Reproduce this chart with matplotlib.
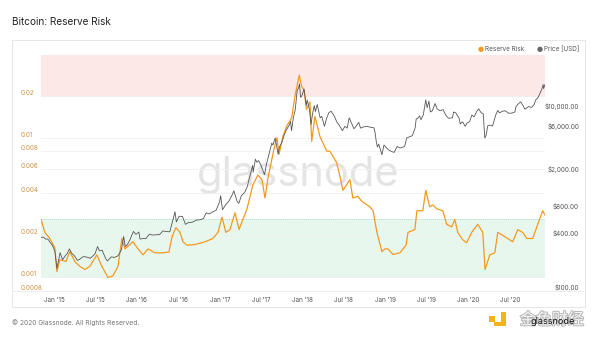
import numpy as np
import pandas as pd
import matplotlib
matplotlib.use('Agg')
from matplotlib import pyplot as plt
import matplotlib.dates as mdates
from matplotlib.patches import Rectangle
from matplotlib.lines import Line2D
from matplotlib import patheffects as pe

plt.rcParams['font.family'] = ['Inter', 'DejaVu Sans']

# reserve risk
riskDates = ['2014-11-05', '2014-11-22', '2014-12-14', '2015-01-05', '2015-01-14', '2015-01-27',
             '2015-02-23', '2015-03-12', '2015-04-03', '2015-04-25', '2015-05-17', '2015-06-08',
             '2015-07-09', '2015-07-31', '2015-08-27', '2015-09-18', '2015-10-10', '2015-10-27',
             '2015-11-10', '2015-12-15', '2016-01-06', '2016-01-28', '2016-02-19', '2016-03-21',
             '2016-04-25', '2016-05-21', '2016-06-04', '2016-06-21', '2016-07-09', '2016-07-22',
             '2016-08-09', '2016-09-13', '2016-10-27', '2016-12-01', '2016-12-23', '2017-01-10',
             '2017-01-27', '2017-02-14', '2017-03-08', '2017-03-26', '2017-04-12', '2017-04-30',
             '2017-05-26', '2017-06-17', '2017-07-05', '2017-07-18', '2017-07-31', '2017-08-26',
             '2017-09-09', '2017-09-18', '2017-10-05', '2017-10-22', '2017-11-13', '2017-11-27',
             '2017-12-16', '2017-12-26', '2018-01-06', '2018-01-17', '2018-02-01', '2018-02-09',
             '2018-02-23', '2018-03-17', '2018-04-16', '2018-04-30', '2018-05-30', '2018-06-13',
             '2018-06-26', '2018-07-27', '2018-08-09', '2018-08-31', '2018-09-18', '2018-10-23',
             '2018-11-06', '2018-11-23', '2018-12-15', '2018-12-28', '2019-01-11', '2019-02-02',
             '2019-03-04', '2019-03-31', '2019-04-09', '2019-05-09', '2019-05-18', '2019-06-13',
             '2019-06-26', '2019-07-13', '2019-07-27', '2019-08-13', '2019-09-09', '2019-09-26',
             '2019-10-18', '2019-11-01', '2019-11-14', '2019-12-06', '2019-12-23', '2020-01-14',
             '2020-02-10', '2020-03-03', '2020-03-13', '2020-04-03', '2020-04-25', '2020-05-08',
             '2020-05-30', '2020-07-13', '2020-08-04', '2020-08-26', '2020-09-13', '2020-10-09',
             '2020-10-31', '2020-11-22', '2020-12-01']
riskValues = [0.0026, 0.0021, 0.0019, 0.00163, 0.0011, 0.00134,
              0.0013, 0.00153, 0.0013, 0.0012, 0.00114, 0.0012,
              0.00145, 0.0012, 0.001, 0.00103, 0.0012, 0.0019,
              0.0016, 0.0018, 0.0016, 0.00145, 0.0016, 0.0015,
              0.0015, 0.00152, 0.00196, 0.00227, 0.0021, 0.0018,
              0.0017, 0.00172, 0.0018, 0.0019, 0.0021, 0.0027,
              0.0021, 0.0022, 0.0029, 0.0022, 0.0026, 0.0031,
              0.0046, 0.0054, 0.005, 0.0037, 0.0051, 0.0082,
              0.01, 0.0076, 0.0102, 0.0121, 0.0139, 0.0198,
              0.028, 0.0233, 0.022, 0.0159, 0.018, 0.0094,
              0.0142, 0.0102, 0.008, 0.008, 0.0066, 0.0053,
              0.0042, 0.005, 0.0037, 0.0038, 0.0035, 0.0032,
              0.003, 0.0021, 0.00153, 0.0016, 0.0016, 0.00146,
              0.0015, 0.0017, 0.0021, 0.0022, 0.003, 0.003,
              0.0042, 0.0032, 0.0033, 0.0031, 0.003, 0.0024,
              0.0023, 0.0026, 0.0021, 0.00186, 0.00177, 0.0021,
              0.0024, 0.0021, 0.00114, 0.00145, 0.0015, 0.0021,
              0.002, 0.0018, 0.0022, 0.0021, 0.0019, 0.0019,
              0.0024, 0.003, 0.0028]

# bitcoin price in USD
priceDates = ['2014-11-05', '2014-11-15', '2014-11-25', '2014-12-05', '2014-12-15', '2014-12-25',
              '2015-01-05', '2015-01-14', '2015-01-20', '2015-01-28', '2015-02-08', '2015-02-20',
              '2015-03-01', '2015-03-10', '2015-03-20', '2015-04-01', '2015-04-14', '2015-04-25',
              '2015-05-10', '2015-05-25', '2015-06-10', '2015-06-22', '2015-07-01', '2015-07-12',
              '2015-07-20', '2015-08-01', '2015-08-18', '2015-08-25', '2015-09-10', '2015-09-25',
              '2015-10-10', '2015-10-25', '2015-11-04', '2015-11-11', '2015-11-20', '2015-12-01',
              '2015-12-10', '2015-12-17', '2015-12-28', '2016-01-10', '2016-01-15', '2016-01-28',
              '2016-02-10', '2016-02-25', '2016-03-10', '2016-03-25', '2016-04-10', '2016-04-25',
              '2016-05-10', '2016-05-25', '2016-06-05', '2016-06-17', '2016-06-23', '2016-07-05',
              '2016-07-20', '2016-08-02', '2016-08-15', '2016-09-01', '2016-09-20', '2016-10-05',
              '2016-10-20', '2016-11-01', '2016-11-15', '2016-12-01', '2016-12-15', '2016-12-30',
              '2017-01-04', '2017-01-12', '2017-01-25', '2017-02-10', '2017-02-25', '2017-03-03',
              '2017-03-18', '2017-03-25', '2017-04-05', '2017-04-20', '2017-05-01', '2017-05-10',
              '2017-05-25', '2017-05-27', '2017-06-06', '2017-06-12', '2017-06-20', '2017-07-01',
              '2017-07-16', '2017-07-25', '2017-08-05', '2017-08-17', '2017-08-22', '2017-09-01',
              '2017-09-14', '2017-09-20', '2017-10-01', '2017-10-12', '2017-10-20', '2017-11-01',
              '2017-11-08', '2017-11-12', '2017-11-20', '2017-11-28', '2017-12-07', '2017-12-12',
              '2017-12-17', '2017-12-22', '2017-12-28', '2018-01-06', '2018-01-16', '2018-01-20',
              '2018-01-30', '2018-02-06', '2018-02-12', '2018-02-20', '2018-02-25', '2018-03-05',
              '2018-03-18', '2018-03-25', '2018-04-06', '2018-04-15', '2018-04-25', '2018-05-05',
              '2018-05-20', '2018-05-30', '2018-06-10', '2018-06-24', '2018-07-05', '2018-07-15',
              '2018-07-24', '2018-08-05', '2018-08-14', '2018-08-25', '2018-09-04', '2018-09-12',
              '2018-09-25', '2018-10-10', '2018-10-25', '2018-11-10', '2018-11-15', '2018-11-20',
              '2018-11-25', '2018-12-01', '2018-12-15', '2018-12-24', '2019-01-05', '2019-01-15',
              '2019-01-30', '2019-02-07', '2019-02-20', '2019-03-05', '2019-03-25', '2019-04-03',
              '2019-04-15', '2019-04-28', '2019-05-10', '2019-05-15', '2019-05-20', '2019-05-30',
              '2019-06-05', '2019-06-15', '2019-06-26', '2019-07-02', '2019-07-10', '2019-07-16',
              '2019-07-25', '2019-08-06', '2019-08-15', '2019-08-28', '2019-09-10', '2019-09-24',
              '2019-10-05', '2019-10-22', '2019-10-26', '2019-11-05', '2019-11-20', '2019-11-25',
              '2019-12-05', '2019-12-17', '2019-12-25', '2020-01-05', '2020-01-15', '2020-01-25',
              '2020-02-05', '2020-02-14', '2020-02-25', '2020-03-05', '2020-03-12', '2020-03-18',
              '2020-03-25', '2020-04-05', '2020-04-15', '2020-04-29', '2020-05-08', '2020-05-15',
              '2020-05-30', '2020-06-10', '2020-06-25', '2020-07-10', '2020-07-22', '2020-07-28',
              '2020-08-10', '2020-08-17', '2020-08-25', '2020-09-05', '2020-09-20', '2020-10-05',
              '2020-10-15', '2020-10-22', '2020-11-01', '2020-11-10', '2020-11-17', '2020-11-24',
              '2020-11-26', '2020-12-01']
priceValues = [390, 395, 375, 375, 345, 320,
               275, 178, 210, 265, 222, 245,
               260, 292, 262, 245, 218, 225,
               240, 237, 230, 245, 258, 310,
               278, 282, 225, 215, 238, 235,
               245, 285, 400, 310, 325, 365,
               415, 455, 422, 448, 375, 380,
               380, 425, 415, 418, 420, 460,
               455, 450, 575, 750, 580, 670,
               665, 545, 570, 575, 608, 612,
               630, 730, 710, 750, 780, 960,
               1130, 790, 890, 990, 1170, 1280,
               970, 930, 1130, 1230, 1420, 1750,
               2450, 2050, 2860, 2650, 2760, 2430,
               1930, 2560, 3250, 4300, 4100, 4900,
               3250, 3900, 4400, 5400, 6000, 6750,
               7450, 5900, 8200, 9900, 16500, 17300,
               19400, 13800, 14400, 17100, 11200, 12900,
               10100, 6900, 8900, 11200, 9600, 11500,
               8200, 8500, 6600, 8000, 9300, 9700,
               8500, 7400, 6800, 5900, 6600, 6300,
               8200, 7000, 6200, 6700, 7300, 6300,
               6500, 6600, 6450, 6350, 5600, 4500,
               3900, 4200, 3200, 4100, 3800, 3600,
               3450, 3400, 3950, 3800, 3950, 4900,
               5050, 5200, 6300, 8000, 8000, 8600,
               7800, 8800, 12900, 10600, 12500, 9500,
               9800, 11800, 10300, 9800, 10100, 8600,
               8100, 8200, 9500, 9300, 8100, 7000,
               7400, 6600, 7200, 7400, 8800, 8400,
               9600, 10300, 9300, 9100, 4900, 5300,
               6700, 6800, 6650, 8800, 9900, 9300,
               9700, 9800, 9200, 9250, 9500, 11000,
               11900, 12300, 11400, 10200, 10900, 10700,
               11500, 12900, 13700, 15300, 16700, 19100,
               17200, 19000]

leftTicks = [0.0008, 0.001, 0.002, 0.004, 0.006, 0.008, 0.01, 0.02]
leftLabels = ['0.0008', '0.001', '0.002', '0.004', '0.006', '0.008', '0.01', '0.02']
rightTicks = [100, 400, 800, 2000, 6000, 10000]
rightLabels = ['$100.00', '$400.00', '$800.00', '$2,000.00', '$6,000.00', '$10,000.00']
sellLevel = 0.02
buyBand = (0.001, 0.0026)

orange = '#f39a1e'
grey = '#555555'

W, H = 600, 338


def rect(x0, y0, x1, y1):
    return [x0 / W, 1 - y1 / H, (x1 - x0) / W, (y1 - y0) / H]


fig = plt.figure(figsize=(6, 3.38), dpi=100)
fig.patch.set_facecolor('white')

# card
fig.add_artist(Rectangle((12 / W, 1 - 307 / H), 573 / W, 267 / H, transform=fig.transFigure,
                         fill=False, edgecolor='#e6e6e6', lw=0.7))
fig.add_artist(Line2D([12 / W, 585 / W], [1 - 291 / H, 1 - 291 / H], transform=fig.transFigure,
                      color='#ececec', lw=0.7))

ax = fig.add_axes(rect(41, 55, 545, 291))
ax.set_facecolor('none')
riskX = pd.to_datetime(riskDates)
priceX = pd.to_datetime(priceDates)

ax.set_yscale('log')
ax.set_ylim(0.0008, 0.039)
ax.set_xlim(pd.Timestamp('2014-11-05'), pd.Timestamp('2020-12-02'))

ax.axhspan(sellLevel, 0.039, color='#fde8e8', lw=0, zorder=0)
ax.axhline(sellLevel, color='#e4a3a3', lw=0.6, ls=(0, (1, 1.5)), zorder=1)
ax.axhspan(buyBand[0], buyBand[1], color='#e7f7ee', lw=0, zorder=0)
ax.axhline(buyBand[0], color='#9fd8b6', lw=0.6, ls=(0, (1, 1.5)), zorder=1)
ax.axhline(buyBand[1], color='#9fd8b6', lw=0.6, ls=(0, (1, 1.5)), zorder=1)

ax.text(0.51, 0.49, 'glassnode', transform=ax.transAxes, ha='center', va='center',
        fontsize=30, color='#e4e4e4', zorder=0.5, fontfamily='Inter')

ax.plot(riskX, riskValues, color=orange, lw=0.9, zorder=3)

ax.set_yticks(leftTicks)
ax.set_yticklabels(leftLabels)
ax.yaxis.set_minor_locator(matplotlib.ticker.NullLocator())
ax.yaxis.grid(True, color='#f0f0f0', lw=0.6)
ax.tick_params(axis='y', length=0, pad=15, labelsize=4.6, labelcolor='#cf9448')
for lab in ax.get_yticklabels():
    lab.set_horizontalalignment('left')
    lab.set_verticalalignment('bottom')

ax.xaxis.set_major_locator(mdates.MonthLocator(bymonth=[1, 7]))
ax.xaxis.set_major_formatter(mdates.DateFormatter("%b '%y"))
ax.tick_params(axis='x', length=0, pad=4, labelsize=4.6, labelcolor='#555555')
for s in ax.spines.values():
    s.set_visible(False)

ax2 = ax.twinx()
ax2.set_yscale('log')
ax2.set_ylim(100, 40500)
ax2.plot(priceX, priceValues, color=grey, lw=0.6, zorder=4)
ax2.set_yticks(rightTicks)
ax2.set_yticklabels(rightLabels)
ax2.yaxis.set_minor_locator(matplotlib.ticker.NullLocator())
ax2.tick_params(axis='y', length=0, pad=24.5, labelsize=4.6, labelcolor='#555555')
for lab in ax2.get_yticklabels():
    lab.set_horizontalalignment('right')
    lab.set_verticalalignment('bottom')
for s in ax2.spines.values():
    s.set_visible(False)

# title, legend, footer
fig.text(12 / W, 1 - 22 / H, 'Bitcoin: Reserve Risk', fontsize=7.2, color='#222222', va='center')
fig.text(481 / W, 1 - 49 / H, '\u25cf', fontsize=5, color=orange, ha='center', va='center',
         fontfamily='DejaVu Sans')
fig.text(485 / W, 1 - 49 / H, 'Reserve Risk', fontsize=4.6, color='#555555', va='center')
fig.text(540 / W, 1 - 49 / H, '\u25cf', fontsize=5, color='#666666', ha='center', va='center',
         fontfamily='DejaVu Sans')
fig.text(544 / W, 1 - 49 / H, 'Price [USD]', fontsize=4.6, color='#555555', va='center')
fig.text(12 / W, 1 - 323 / H, '\u00a9 2020 Glassnode. All Rights Reserved.', fontsize=4.8,
         color='#777777', va='center')

# logo corner
fig.add_artist(Rectangle((489 / W, 1 - 322 / H), 6 / W, 6 / H, transform=fig.transFigure,
                         color='#f2b31b', lw=0))
fig.add_artist(Rectangle((501 / W, 1 - 326 / H), 5 / W, 14 / H, transform=fig.transFigure,
                         color='#f2b31b', lw=0))
fig.add_artist(Rectangle((494 / W, 1 - 326 / H), 12 / W, 4 / H, transform=fig.transFigure,
                         color='#f2b31b', lw=0))
fig.text(552 / W, 1 - 320 / H, '金色财经', fontsize=11.5, color='#f6f6f6', ha='center', va='center',
         fontfamily=['Noto Sans CJK SC', 'DejaVu Sans'],
         path_effects=[pe.withStroke(linewidth=1.4, foreground='#b5b5b5')])
fig.text(553 / W, 1 - 322 / H, 'glassnode', fontsize=6.5, color='#111111', ha='center', va='center')

fig.savefig('out.png', dpi=100)
